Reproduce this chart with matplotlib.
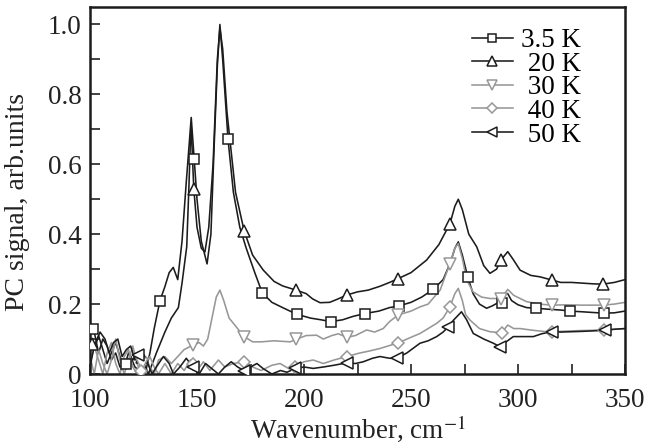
import numpy as np
import matplotlib
matplotlib.use("Agg")
import matplotlib.pyplot as plt
from matplotlib.lines import Line2D
from matplotlib.ticker import MultipleLocator

# spectra (wavenumber in cm^-1, PC signal in arb. units)
t35_x = [100, 102, 104, 106, 108, 110, 112, 114, 116.8, 119,
         121, 123, 125.7, 128, 130, 132.7, 135, 137, 138.9, 141,
         143, 145, 147.3, 148.7, 150, 152, 154.7, 156.5, 158, 159.5,
         160.7, 162, 164.5, 167, 170, 173, 177, 180.5, 185, 190,
         196.6, 203, 208, 212.5, 218, 223, 228.5, 235, 240, 244.5,
         250, 255, 260.4, 265, 268.5, 270.5, 272.1, 274, 276.5, 279,
         282, 285.3, 288, 291, 293.5, 295.2, 297, 300, 304, 308.4,
         315, 320, 324.4, 330, 335, 340.3, 345, 350]
t35_y = [0.13, 0.12, 0.06, 0.10, 0.08, 0.04, 0.06, 0.02, 0.03, 0.05,
         0.02, 0.01, 0.0, 0.06, 0.13, 0.21, 0.25, 0.29, 0.305, 0.27,
         0.38, 0.55, 0.734, 0.614, 0.5, 0.38, 0.315, 0.4, 0.65, 0.88,
         1.0, 0.9, 0.671, 0.52, 0.42, 0.36, 0.29, 0.232, 0.205, 0.19,
         0.171, 0.16, 0.155, 0.15, 0.155, 0.165, 0.173, 0.18, 0.19, 0.195,
         0.205, 0.22, 0.242, 0.27, 0.32, 0.36, 0.378, 0.34, 0.278, 0.23,
         0.2, 0.188, 0.195, 0.205, 0.23, 0.23, 0.21, 0.198, 0.19, 0.188,
         0.185, 0.183, 0.18, 0.178, 0.176, 0.174, 0.175, 0.18]
t35_mx = [101.5, 116.8, 132.7, 148.7, 164.5, 180.5, 196.6, 212.5, 228.5, 244.5,
          260.4, 276.5, 292.4, 308.4, 324.4, 340.3]
t35_my = [0.13, 0.03, 0.21, 0.614, 0.671, 0.232, 0.171, 0.15, 0.173, 0.195,
          0.242, 0.278, 0.202, 0.188, 0.18, 0.174]

t20_x = [100, 102, 104, 106, 108, 110, 112, 114, 116, 118,
         120, 122, 124.5, 126, 127.3, 131, 135, 138, 141.3, 143,
         145.2, 146.3, 147.2, 148.5, 150, 152, 153.7, 155.5, 157.5, 159.5,
         160.7, 162, 164, 168, 172, 176, 181, 186, 190, 196.3,
         201, 204, 207.5, 212, 216, 220, 225, 230, 235.5, 240,
         244, 250, 257.3, 263, 268.2, 270.5, 272.1, 274, 277, 280.7,
         284, 286.9, 290, 292, 295.2, 297.5, 301, 306, 310.3, 315.7,
         320, 325, 330, 335, 339.6, 345, 350]
t20_y = [0.10, 0.07, 0.11, 0.07, 0.03, 0.06, 0.09, 0.05, 0.02, 0.06,
         0.04, 0.06, 0.05, 0.02, 0.0, 0.06, 0.12, 0.16, 0.19, 0.26,
         0.364, 0.55, 0.72, 0.53, 0.42, 0.36, 0.349, 0.42, 0.6, 0.9,
         0.99, 0.93, 0.75, 0.52, 0.41, 0.34, 0.297, 0.265, 0.252, 0.24,
         0.23, 0.215, 0.204, 0.205, 0.215, 0.226, 0.235, 0.24, 0.251, 0.262,
         0.273, 0.29, 0.326, 0.37, 0.43, 0.48, 0.5, 0.47, 0.4, 0.364,
         0.31, 0.288, 0.3, 0.326, 0.35, 0.33, 0.297, 0.282, 0.278, 0.269,
         0.262, 0.262, 0.26, 0.258, 0.257, 0.262, 0.27]
t20_mx = [101, 124.5, 148.5, 172, 196.3, 220, 244, 268.2, 292, 315.7, 339.6]
t20_my = [0.085, 0.05, 0.53, 0.41, 0.24, 0.226, 0.273, 0.43, 0.326, 0.269, 0.257]

t30_x = [100, 102, 104, 106, 108, 110, 112, 114, 116, 118,
         120, 122, 124.3, 126, 128, 130, 132, 135, 138, 141,
         144, 148.3, 151, 153, 155, 157, 159, 160.7, 162.5, 165,
         167, 172, 176, 180, 186, 193.5, 196.3, 201, 205.9, 209,
         213, 216, 220, 224, 229.3, 233, 237, 240, 244, 250,
         254.2, 258, 263.6, 268.2, 270.5, 272.1, 274, 276, 279, 283,
         286.9, 292, 295.2, 298, 304, 310, 315.7, 322, 330, 340,
         345, 350]
t30_y = [0.03, 0.08, 0.04, 0.0, 0.06, 0.09, 0.03, 0.0, 0.05, 0.07,
         0.02, 0.0, 0.03, 0.05, 0.02, 0.0, 0.04, 0.05, 0.03, 0.05,
         0.07, 0.083, 0.09, 0.08, 0.1, 0.16, 0.22, 0.24, 0.21, 0.16,
         0.145, 0.107, 0.092, 0.092, 0.095, 0.092, 0.099, 0.11, 0.111, 0.1,
         0.11, 0.115, 0.105, 0.11, 0.126, 0.12, 0.13, 0.15, 0.169, 0.18,
         0.192, 0.2, 0.24, 0.316, 0.36, 0.373, 0.33, 0.269, 0.235, 0.22,
         0.216, 0.216, 0.242, 0.225, 0.207, 0.2, 0.197, 0.198, 0.197, 0.197,
         0.2, 0.205]
t30_mx = [124.3, 148.3, 172, 196.3, 220, 244, 268.2, 292, 315.7, 340]
t30_my = [0.03, 0.083, 0.107, 0.099, 0.105, 0.169, 0.316, 0.216, 0.197, 0.197]

t40_x = [100, 102, 104, 106, 108, 110, 112, 114, 116, 118,
         120, 122, 124, 126, 128, 130, 132, 135, 138, 141,
         144, 147, 150, 153, 156, 160, 163, 167, 172, 176,
         180, 185, 188.8, 193, 196, 200, 204.3, 209, 214, 220,
         226, 230, 235.5, 244, 250, 254.2, 258, 262, 265, 268.2,
         270.5, 272.1, 274, 275.5, 277.6, 282, 286.9, 292.4, 295.2, 298,
         301, 307, 313.4, 320, 328, 335, 340, 345, 350]
t40_y = [0.05, 0.0, 0.07, 0.03, 0.0, 0.04, 0.1, 0.04, 0.0, 0.04,
         0.08, 0.03, 0.0, 0.03, 0.05, 0.02, 0.0, 0.03, 0.0, 0.03,
         0.01, 0.04, 0.01, 0.035, 0.01, 0.04, 0.02, 0.03, 0.035, 0.02,
         0.01, 0.025, 0.03, 0.015, 0.02, 0.035, 0.04, 0.03, 0.04, 0.05,
         0.06, 0.065, 0.073, 0.089, 0.105, 0.116, 0.13, 0.145, 0.16, 0.192,
         0.23, 0.245, 0.21, 0.17, 0.154, 0.13, 0.121, 0.118, 0.14, 0.13,
         0.13, 0.125, 0.121, 0.122, 0.124, 0.125, 0.127, 0.128, 0.13]
t40_mx = [124, 148, 172, 196, 220, 244, 268.2, 292.4, 316, 340]
t40_my = [0.01, 0.03, 0.035, 0.02, 0.05, 0.089, 0.192, 0.118, 0.121, 0.127]

t50_x = [100, 102, 104.7, 107, 109, 111, 113, 115, 117, 119,
         121, 122.6, 125, 127, 129, 131, 134.3, 137, 139, 142,
         145, 148, 151, 154, 157, 160, 163, 166, 169, 172,
         175, 178, 181, 185, 189, 192, 196, 200, 204.3, 209,
         214, 220, 224, 227.7, 232, 235.5, 240, 243.3, 248, 254.2,
         258, 262, 265, 267.4, 270, 273.6, 276, 279.1, 284, 288.5,
         291.6, 294, 297.8, 302, 307.2, 311, 315.7, 320, 330, 340.7,
         345, 350]
t50_y = [0.02, 0.08, 0.12, 0.1, 0.06, 0.09, 0.1, 0.05, 0.07, 0.08,
         0.04, 0.054, 0.05, 0.03, 0.0, 0.02, 0.05, 0.03, 0.0, 0.02,
         0.045, 0.02, 0.0, 0.03, 0.015, 0.0, 0.02, 0.035, 0.02, 0.01,
         0.02, 0.03, 0.015, 0.0, 0.01, 0.005, 0.016, 0.02, 0.016, 0.02,
         0.025, 0.032, 0.03, 0.035, 0.045, 0.05, 0.045, 0.045, 0.06, 0.088,
         0.095, 0.107, 0.12, 0.135, 0.155, 0.178, 0.155, 0.116, 0.1, 0.088,
         0.078, 0.09, 0.107, 0.107, 0.107, 0.115, 0.121, 0.12, 0.122, 0.125,
         0.128, 0.13]
t50_mx = [122.6, 148, 172, 196, 220, 243.3, 267.4, 291.6, 315.7, 340.7]
t50_my = [0.054, 0.02, 0.01, 0.016, 0.032, 0.045, 0.135, 0.078, 0.121, 0.125]

labels = ["3.5 K", " 20 K", " 30 K", " 40 K", " 50 K"]
black = "#1c1c1c"
grey = "#979797"

plt.rcParams["font.family"] = ["Liberation Serif", "DejaVu Serif"]
plt.rcParams["mathtext.fontset"] = "stix"

fig = plt.figure(figsize=(6.45, 4.45), dpi=100)
ax = fig.add_axes([90 / 645, 1 - 374 / 445, 535 / 645, 367 / 445])

series = [
    (t35_x, t35_y, t35_mx, t35_my, black, "s", 6.5),
    (t20_x, t20_y, t20_mx, t20_my, black, "^", 8.5),
    (t30_x, t30_y, t30_mx, t30_my, grey, "v", 8.5),
    (t40_x, t40_y, t40_mx, t40_my, grey, "D", 6.0),
    (t50_x, t50_y, t50_mx, t50_my, black, "<", 8.5),
]

handles = []
for x, y, mx, my, col, mk, ms in series:
    ax.plot(x, y, color=col, lw=1.15, zorder=2)
    ax.plot(mx, my, ls="none", marker=mk, ms=ms, mfc="white", mec=col,
            mew=1.1, zorder=3)
    handles.append(Line2D([], [], color=col, lw=1.15, marker=mk, ms=ms * 0.85,
                          mfc="white", mec=col, mew=1.1))

ax.set_xlim(100, 350)
ax.set_ylim(0, 1.05)
ax.set_xticks(np.arange(100, 351, 50))
ax.xaxis.set_minor_locator(MultipleLocator(25))
ax.set_yticks([0, 0.2, 0.4, 0.6, 0.8, 1.0])
ax.set_yticklabels(["0", "0.2", "0.4", "0.6", "0.8", "1.0"])
ax.yaxis.set_minor_locator(MultipleLocator(0.1))
ax.tick_params(which="both", direction="in", length=7, width=1.2,
               top=False, right=False, labelsize=19.5, colors="#222222")
ax.tick_params(axis="x", pad=10)
ax.tick_params(axis="y", pad=6)
for s in ax.spines.values():
    s.set_linewidth(1.8)
    s.set_color("#1c1c1c")

ax.set_xlabel("Wavenumber, cm$^{-1}$", fontsize=19.5, color="#222222", labelpad=0)
ax.set_ylabel("PC signal, arb.units", fontsize=20, color="#222222")
ax.yaxis.set_label_coords(-0.112, 0.47)

ax.legend(handles, labels, loc="upper left", bbox_to_anchor=(472 / 645, 1 - 28 / 445),
          bbox_transform=fig.transFigure, frameon=False, fontsize=19.5,
          borderpad=0, borderaxespad=0, handlelength=1.5, handletextpad=0.3,
          labelspacing=-0.05)

fig.savefig("out.png", dpi=100)
